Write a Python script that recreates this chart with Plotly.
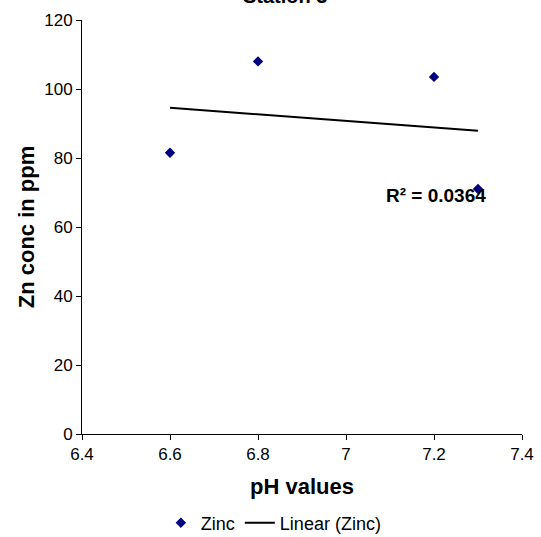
import numpy as np
import plotly.graph_objects as go

# Station 3 measurements
ph_values = [6.6, 6.8, 7.2, 7.3]
zinc_ppm = [81.5, 108.0, 103.5, 71.0]
x_ticks = [6.4, 6.6, 6.8, 7.0, 7.2, 7.4]
x_tick_text = ["6.4", "6.6", "6.8", "7", "7.2", "7.4"]
y_ticks = [0, 20, 40, 60, 80, 100, 120]
r2_label = "R² = 0.0364"

# Least-squares linear trend across the measured pH range
slope, intercept = np.polyfit(ph_values, zinc_ppm, 1)
trend_x = [min(ph_values), max(ph_values)]
trend_y = [slope * v + intercept for v in trend_x]

FONT = "Liberation Sans, Arial, sans-serif"

fig = go.Figure()
fig.add_trace(go.Scatter(
    x=ph_values, y=zinc_ppm, mode="markers", name="Zinc",
    marker=dict(symbol="diamond", size=8, color="#000080"),
))
fig.add_trace(go.Scatter(
    x=trend_x, y=trend_y, mode="lines", name="Linear (Zinc)",
    line=dict(color="black", width=2),
))

fig.add_annotation(
    x=7.205, y=69, xref="x", yref="y", text=f"<b>{r2_label}</b>",
    showarrow=False, font=dict(family=FONT, size=19, color="black"),
)
fig.add_annotation(
    x=0.461, y=1, xref="paper", yref="paper", yanchor="middle", yshift=24,
    text="<b>Station 3</b>", showarrow=False,
    font=dict(family=FONT, size=20, color="black"),
)

fig.update_layout(
    width=541, height=537,
    margin=dict(l=82, r=19, t=20, b=103, autoexpand=False),
    paper_bgcolor="white", plot_bgcolor="white",
    font=dict(family=FONT, size=17, color="black"),
    showlegend=True,
    legend=dict(
        orientation="h", x=0.436, xanchor="center",
        yref="container", y=0.026, yanchor="middle",
        font=dict(family=FONT, size=18), itemwidth=30,
    ),
    xaxis=dict(
        range=[6.4, 7.4], tickvals=x_ticks, ticktext=x_tick_text,
        automargin=False,
        showgrid=False, zeroline=False, showline=True, linecolor="black",
        linewidth=1, ticks="outside", ticklen=5, tickcolor="black",
        title=dict(text="<b>pH values</b>", font=dict(family=FONT, size=22), standoff=15),
    ),
    yaxis=dict(
        range=[0, 120], tickvals=y_ticks, automargin=False,
        showgrid=False, zeroline=False, showline=True, linecolor="black",
        linewidth=1, ticks="outside", ticklen=5, tickcolor="black",
        title=dict(text="<b>Zn conc in ppm</b>", font=dict(family=FONT, size=22), standoff=3),
    ),
)

fig.write_html("out.html")
